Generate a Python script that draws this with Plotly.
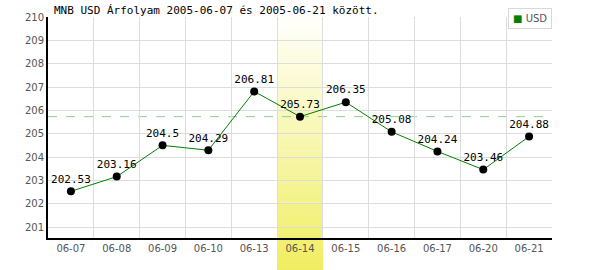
import plotly.graph_objects as go

dates = ["06-07", "06-08", "06-09", "06-10", "06-13", "06-14", "06-15", "06-16", "06-17", "06-20", "06-21"]
usd = [202.53, 203.16, 204.5, 204.29, 206.81, 205.73, 206.35, 205.08, 204.24, 203.46, 204.88]
highlight_idx = 5
ref_value = 205.73
series_name = "USD"
title = "MNB USD Árfolyam 2005-06-07 és 2005-06-21 között."

xs = list(range(len(dates)))
labels = [f"{v:g}" for v in usd]

fig = go.Figure()

fig.add_trace(go.Scatter(
    x=xs, y=usd, mode="lines+markers+text", name=series_name,
    line=dict(color="#008000", width=1),
    marker=dict(color="black", size=8),
    text=labels, textposition="top center",
    textfont=dict(family="DejaVu Sans Mono", size=11, color="black"),
    showlegend=False,
))

# gradient highlight band
n = 40
top_c = (255, 255, 250)
bot_c = (240, 238, 96)
y_top = 1.0
y_bot = -0.16
for i in range(n):
    t = i / (n - 1)
    c = tuple(int(round(top_c[k] + (bot_c[k] - top_c[k]) * t)) for k in range(3))
    y0 = y_top - (y_top - y_bot) * i / n
    y1 = y_top - (y_top - y_bot) * (i + 1) / n
    fig.add_shape(type="rect", xref="x", yref="paper",
                  x0=highlight_idx - 0.5, x1=highlight_idx + 0.5, y0=y1, y1=y0 + 0.002,
                  fillcolor=f"rgb{c}", line=dict(width=0), layer="between")

fig.add_shape(type="line", xref="paper", yref="y", x0=0, x1=1, y0=ref_value, y1=ref_value,
              line=dict(color="#90d090", width=1, dash="dash"), layer="between")

fig.update_layout(
    width=600, height=270,
    margin=dict(l=48, r=48, t=17, b=32),
    paper_bgcolor="white", plot_bgcolor="white",
    showlegend=False,
    annotations=[
        dict(text=title, xref="paper", yref="paper", x=0.007, y=1.0,
             xanchor="left", yanchor="bottom", showarrow=False,
             font=dict(family="DejaVu Sans Mono", size=11, color="black"),
             yshift=-2),
        dict(text=f"<span style='color:#008000'>■</span> {series_name}",
             xref="paper", yref="paper", x=1.0, y=1.04,
             xanchor="right", yanchor="top", showarrow=False,
             font=dict(family="DejaVu Sans", size=10, color="#555555"),
             bordercolor="#d8d8d8", borderwidth=1, borderpad=4, bgcolor="white"),
    ],
)
fig.update_xaxes(
    range=[-0.5, len(dates) - 0.5], tickvals=xs, ticktext=dates,
    showgrid=False, zeroline=False,
    showline=True, linecolor="black", linewidth=2,
    ticks="", tickfont=dict(family="DejaVu Sans", size=10, color="#555555"),
    minor=dict(tick0=-0.5, dtick=1, showgrid=True, gridcolor="#dddddd", gridwidth=1),
)
fig.update_yaxes(
    range=[200.53, 210], tickvals=list(range(201, 211)),
    showgrid=True, gridcolor="#dddddd", gridwidth=1, zeroline=False,
    showline=True, linecolor="black", linewidth=2,
    ticks="", tickfont=dict(family="DejaVu Sans", size=10, color="#555555"),
)

fig.write_html("out.html")
